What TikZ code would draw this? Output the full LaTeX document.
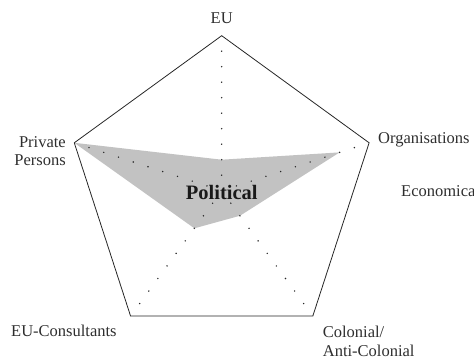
\documentclass[tikz,border=0pt]{standalone}
\usepackage{fontspec}
\setmainfont{Liberation Serif}
\begin{document}
\begin{tikzpicture}[x=1pt,y=1pt,
  axislabel/.style={font=\fontsize{16.5}{18.6}\selectfont, text=black!82, inner sep=0pt},
  axisdot/.style={fill=black!85}]
  \useasboundingbox (-221.7,-170.3) rectangle (252.3,190.7);
  % corners of the pentagon
  \foreach \name/\ang in {eu/90, org/18, col/-54, cons/-126, priv/162}
    \coordinate (\name) at (\ang:155);
  % profile
  \fill[black!24] (90:31) -- (18:124) -- (-54:31) -- (-126:46.5) -- (priv) -- cycle;
  \foreach \ang in {90,18,-54,-126,162}
    \foreach \k in {1,...,9}
      \fill[axisdot] (\ang:{15.5*\k}) circle (0.8);
  \draw[black!85, line width=0.8pt] (eu) -- (org) -- (col) -- (cons) -- (priv) -- cycle;
  \node[axislabel, anchor=base] (eulabel) at (0,167.4) {EU};
  \node[axislabel, anchor=base west] (orglabel) at (156.3,46.7) {Organisations};
  \node[axislabel, anchor=base east, align=right] (privlabel) at (-155.7,25) {Private\\Persons};
  \node[axislabel, anchor=base west] (conslabel) at (-210.7,-146) {EU-Consultants};
  \node[axislabel, anchor=base west, align=left] (collabel) at (101,-165.3) {Colonial/\\Anti-Colonial};
  \node[axislabel, anchor=base west] (ecolabel) at (179.3,-6) {Economical};
  \node[axislabel, anchor=base, font=\fontsize{20.5}{24}\selectfont\bfseries, text=black!90] (pol) at (0,-9.3) {Political};
\end{tikzpicture}
\end{document}
